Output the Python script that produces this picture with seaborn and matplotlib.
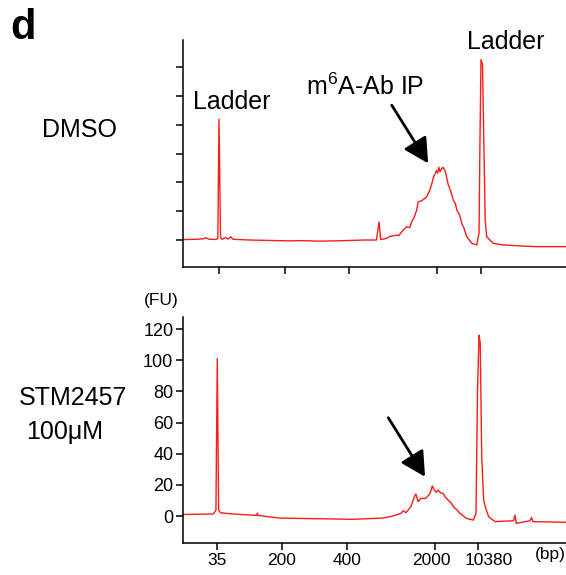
import numpy as np
import pandas as pd
import matplotlib
matplotlib.use("Agg")
import matplotlib.pyplot as plt
import matplotlib.transforms as mtransforms
import seaborn as sns

# ---------------- data (position along run, fluorescence FU) ----------------
dmso_pos = [0.0, 3.1, 5.2, 6.0, 6.8, 8.6, 9.1, 9.4, 9.8, 10.2, 11.2, 11.7, 12.5, 13.1,
            17.5, 22.7, 27.9, 30.5, 35.8, 41.0, 44.9, 47.5, 50.5, 51.2, 51.6, 53.2,
            54.0, 55.8, 56.3, 57.5, 58.4, 59.2, 59.7, 60.4, 61.0, 61.4, 62.4, 63.6,
            64.5, 65.0, 65.4, 66.2, 66.5, 66.8, 67.1, 67.5, 67.9, 68.4, 68.8, 69.2,
            69.9, 70.6, 71.1, 71.5, 72.2, 72.8, 73.4, 74.1, 75.4, 76.7, 77.3,
            77.5, 77.8, 78.2, 78.6, 78.9, 79.3, 81.0, 83.6, 88.0, 92.3, 99.7, 100.0]
dmso_fu = [0.3, 0.5, 0.8, 1.6, 0.6, 0.4, 1.0, 84.0, 2.0, 0.5, 1.8, 0.6, 2.2, 0.5,
           0.0, -0.3, -0.6, -0.4, -0.8, -0.5, -0.2, 0.0, 0.0, 12.6, 0.3, 1.2,
           2.5, 3.4, 3.0, 6.9, 9.2, 8.5, 12.6, 16.0, 20.7, 26.4, 27.5, 29.9,
           35.0, 39.5, 43.7, 48.3, 46.5, 50.5, 47.5, 49.5, 50.5, 48.3, 44.0, 38.9,
           34.0, 27.6, 25.5, 20.7, 17.5, 11.5, 8.0, 2.3, -2.3, -3.4, 4.8,
           60.0, 125.3, 122.0, 60.0, 13.8, 2.3, -2.3, -3.4, -4.1, -4.6, -4.6, -4.6]

stm_pos = [0.0, 7.9, 8.6, 8.95, 9.3, 9.8, 13.1, 19.2, 19.4, 19.6, 25.2, 34.7, 44.3,
           52.2, 54.8, 56.9, 57.5, 58.2, 59.5, 60.4, 60.8, 61.4, 62.1, 63.4, 64.5,
           65.1, 65.6, 66.1, 66.6, 67.3, 67.9, 68.5, 69.2, 69.9, 70.6, 71.5, 72.3,
           74.0, 75.8, 76.5, 76.9, 77.3, 77.6, 78.0, 78.5, 78.9, 79.8, 81.5, 86.3,
           86.7, 87.0, 90.6, 91.0, 91.4, 99.9, 100.0]
stm_fu = [1.0, 1.3, 3.8, 101.0, 3.8, 2.1, 1.3, 0.4, 1.8, 0.4, -1.3, -1.7, -2.1,
          -1.3, 0.0, 1.7, 3.4, 2.1, 6.0, 12.4, 14.1, 9.2, 11.3, 11.3, 14.5,
          19.3, 16.7, 15.2, 16.7, 14.8, 14.5, 12.0, 10.3, 8.8, 6.0, 4.0, 1.7,
          -1.5, -2.6, 1.7, 81.0, 116.0, 111.0, 38.0, 10.3, 6.0, -0.4, -3.6, -3.0,
          0.6, -4.7, -3.0, -1.0, -3.6, -4.0, -4.0]

tick_labels = ["35", "200", "400", "2000", "10380"]
dmso_ticks = [9.4, 26.6, 43.3, 66.3, 77.8]
stm_ticks = [8.9, 25.8, 42.8, 65.8, 77.0]
fu_ticks = [0, 20, 40, 60, 80, 100, 120]

dmso_df = pd.DataFrame({"pos": dmso_pos, "fu": dmso_fu})
stm_df = pd.DataFrame({"pos": stm_pos, "fu": stm_fu})

# ---------------- style ----------------
sns.set_style("ticks")
plt.rcParams["font.family"] = ["Liberation Sans", "DejaVu Sans"]
plt.rcParams["mathtext.default"] = "regular"
plt.rcParams["mathtext.fontset"] = "custom"
plt.rcParams["mathtext.rm"] = "Liberation Sans"
for key in ("text.color", "axes.labelcolor", "xtick.color", "ytick.color", "axes.edgecolor"):
    plt.rcParams[key] = "black"

W, H = 566, 575
fig = plt.figure(figsize=(W / 100, H / 100), dpi=100)
ax1 = fig.add_axes([183 / W, 1 - 267 / H, (W - 183) / W, (267 - 40) / H])
ax2 = fig.add_axes([183 / W, 1 - 543 / H, (W - 183) / W, (543 - 317) / H])

red = "#ff1a1a"
sns.lineplot(data=dmso_df, x="pos", y="fu", ax=ax1, color=red, lw=1.0,
             estimator=None, sort=False)
sns.lineplot(data=stm_df, x="pos", y="fu", ax=ax2, color=red, lw=1.0,
             estimator=None, sort=False)

for ax in (ax1, ax2):
    ax.set_xlim(0, 100)
    ax.set_xlabel("")
    ax.set_ylabel("")
    sns.despine(ax=ax)
    ax.spines["left"].set_linewidth(1.1)
    ax.spines["bottom"].set_linewidth(1.1)
    ax.tick_params(length=5, width=1.1, direction="out", pad=2, colors="black")
    ax.tick_params(axis="y", labelsize=13)
    ax.tick_params(axis="x", labelsize=12.5)

ax1.set_ylim(-18.75, 139)
ax1.set_yticks(fu_ticks)
ax1.set_yticklabels([])
ax1.set_xticks(dmso_ticks)
ax1.set_xticklabels([])

ax2.set_ylim(-17.3, 127.7)
ax2.set_yticks(fu_ticks)
ax2.set_xticks(stm_ticks)
ax2.set_xticklabels(tick_labels)

# shift the two crowded labels apart, as in the original
shifts = {"2000": -4, "10380": 11}
for lab in ax2.get_xticklabels():
    dx = shifts.get(lab.get_text(), 0)
    if dx:
        lab.set_transform(lab.get_transform() +
                          mtransforms.ScaledTranslation(dx / 100, 0, fig.dpi_scale_trans))

# annotations
ax1.text(12.7, 96, "Ladder", ha="center", va="center", fontsize=18)
ax1.text(84.3, 137.6, "Ladder", ha="center", va="center", fontsize=18)
ax1.text(47.5, 106.3, r"m$^{6}$A-Ab IP", ha="center", va="center", fontsize=18)

arrow = dict(arrowstyle="-|>,head_length=0.75,head_width=0.4", mutation_scale=20,
             color="black", lw=2.0, shrinkA=0, shrinkB=0)
ax1.annotate("", xy=(64.0, 53.3), xytext=(54.5, 93.7), arrowprops=arrow)
ax2.annotate("", xy=(63.2, 25.2), xytext=(53.6, 63.1), arrowprops=arrow)

fig.text(10 / W, 1 - 28 / H, "d", fontsize=30, fontweight="bold", ha="left", va="center")
fig.text(80 / W, 1 - 130 / H, "DMSO", fontsize=18, ha="center", va="center")
fig.text(73 / W, 1 - 398 / H, "STM2457", fontsize=18, ha="center", va="center")
fig.text(65 / W, 1 - 432 / H, "100\u03bcM", fontsize=18, ha="center", va="center")
fig.text(161 / W, 1 - 300 / H, "(FU)", fontsize=12.5, ha="center", va="center")
fig.text(550 / W, 1 - 554 / H, "(bp)", fontsize=12.5, ha="center", va="center")

fig.savefig("out.png", dpi=100)
